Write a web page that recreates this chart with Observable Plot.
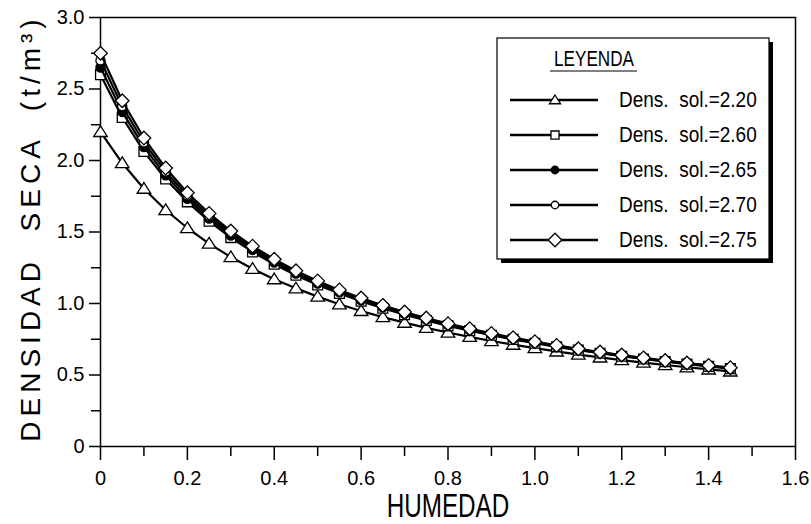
<!DOCTYPE html>
<html>
<head>
<meta charset="utf-8">
<script src="https://cdn.jsdelivr.net/npm/d3@7"></script>
<script src="https://cdn.jsdelivr.net/npm/@observablehq/plot@0.6"></script>
<style>
  html, body { margin: 0; padding: 0; background: #fff; }
  #wrap { position: relative; width: 811px; height: 524px; }
  #legend { position: absolute; left: 0; top: 0; }
  .ytitle text { white-space: pre; letter-spacing: 5px; }
</style>
</head>
<body>
<div id="wrap"><div id="chart"></div><svg id="legend" width="811" height="524"></svg></div>
<script>
// Humedad (x values)
const humedad = [0,0.05,0.10,0.15,0.20,0.25,0.30,0.35,0.40,0.45,0.50,0.55,0.60,0.65,0.70,0.75,0.80,0.85,0.90,0.95,1.00,1.05,1.10,1.15,1.20,1.25,1.30,1.35,1.40,1.45];
// Densidad seca for each solid density
const dens220 = [2.200,1.982,1.803,1.654,1.528,1.419,1.325,1.243,1.170,1.106,1.048,0.995,0.948,0.905,0.866,0.830,0.797,0.767,0.738,0.712,0.688,0.665,0.643,0.623,0.604,0.587,0.570,0.554,0.539,0.525];
const dens260 = [2.600,2.301,2.063,1.871,1.711,1.576,1.461,1.361,1.275,1.198,1.130,1.070,1.016,0.967,0.922,0.881,0.844,0.810,0.778,0.749,0.722,0.697,0.674,0.652,0.631,0.612,0.594,0.576,0.560,0.545];
const dens265 = [2.650,2.340,2.095,1.896,1.732,1.594,1.476,1.375,1.286,1.209,1.140,1.078,1.023,0.973,0.928,0.887,0.849,0.815,0.783,0.753,0.726,0.701,0.677,0.655,0.634,0.614,0.596,0.579,0.563,0.547];
const dens270 = [2.700,2.379,2.126,1.922,1.753,1.612,1.492,1.388,1.298,1.219,1.149,1.087,1.031,0.980,0.934,0.893,0.854,0.819,0.787,0.757,0.730,0.704,0.680,0.658,0.637,0.617,0.599,0.581,0.565,0.549];
const dens275 = [2.750,2.418,2.157,1.947,1.774,1.630,1.507,1.401,1.310,1.229,1.158,1.095,1.038,0.987,0.940,0.898,0.859,0.824,0.791,0.761,0.733,0.707,0.683,0.661,0.640,0.620,0.601,0.584,0.567,0.551];

const seriesNames = ["Dens.  sol.=2.20","Dens.  sol.=2.60","Dens.  sol.=2.65","Dens.  sol.=2.70","Dens.  sol.=2.75"];
const seriesValues = [dens220, dens260, dens265, dens270, dens275];
const seriesSymbols = ["triangle","square","circle","circle","diamond"];
const seriesFill = ["white","white","black","white","white"];

const xMajorTicks = [0,0.2,0.4,0.6,0.8,1.0,1.2,1.4,1.6];
const xMinorTicks = [0.1,0.3,0.5,0.7,0.9,1.1,1.3,1.5];
const yMajorTicks = [0,0.5,1.0,1.5,2.0,2.5,3.0];
const yMinorTicks = [0.25,0.75,1.25,1.75,2.25,2.75];

const xTitle = "HUMEDAD";
const yTitle = "DENSIDAD  SECA  (t/m³)";
const legendTitle = "LEYENDA";

const fmt = d => d === 0 ? "0" : d.toFixed(1);

// square-ish diamond (rotated square) and equilateral triangle
const diamondSym = {draw(ctx, size) { const r = Math.sqrt(size) * 0.62; ctx.moveTo(0, -r); ctx.lineTo(r, 0); ctx.lineTo(0, r); ctx.lineTo(-r, 0); ctx.closePath(); }};
const triSym = {draw(ctx, size) { const r = Math.sqrt(size) * 0.62; const h = r * 0.9; ctx.moveTo(0, -h); ctx.lineTo(r, h * 0.75); ctx.lineTo(-r, h * 0.75); ctx.closePath(); }};
const squareSym = {draw(ctx, size) { const r = Math.sqrt(size) * 0.45; ctx.rect(-r, -r, 2 * r, 2 * r); }};
const circleSym = {draw(ctx, size) { const r = Math.sqrt(size) * 0.42; ctx.moveTo(r, 0); ctx.arc(0, 0, r, 0, 2 * Math.PI); }};
const symMap = {triangle: triSym, square: squareSym, circle: circleSym, diamond: diamondSym};
const symArea = 120;

const marks = [];
seriesValues.forEach((vals, i) => {
  const data = humedad.map((h, j) => ({x: h, y: vals[j]}));
  marks.push(Plot.line(data, {x: "x", y: "y", stroke: "black", strokeWidth: 2.2}));
  marks.push(Plot.dot(data, {x: "x", y: "y", symbol: symMap[seriesSymbols[i]], r: Math.sqrt(symArea / Math.PI),
    fill: seriesFill[i], stroke: "black", strokeWidth: 1.3}));
});

const chart = Plot.plot({
  width: 811,
  height: 524,
  marginLeft: 100,
  marginRight: 16,
  marginTop: 17,
  marginBottom: 78,
  style: {fontFamily: "'Liberation Sans', sans-serif", fontSize: "20px", color: "black", background: "white"},
  x: {domain: [0, 1.6]},
  y: {domain: [0, 3.0]},
  marks: [
    Plot.frame({stroke: "black", strokeWidth: 1.5}),
    Plot.axisX({ticks: xMajorTicks, tickFormat: fmt, tickSize: 14, tickPadding: 10, strokeWidth: 1.5, label: null, fontSize: 20}),
    Plot.axisX({ticks: xMinorTicks, tickFormat: () => "", tickSize: 10, strokeWidth: 1.5, label: null}),
    Plot.axisY({ticks: yMajorTicks, tickFormat: fmt, tickSize: 11, tickPadding: 5, strokeWidth: 1.5, label: null, fontSize: 20}),
    Plot.axisY({ticks: yMinorTicks, tickFormat: () => "", tickSize: 9, strokeWidth: 1.5, label: null}),
    Plot.text([xTitle], {frameAnchor: "bottom", lineAnchor: "bottom", dy: 70, fontSize: 25, fill: "black", className: "xtitle"}),
    Plot.text([yTitle], {frameAnchor: "left", textAnchor: "middle", rotate: -90, dx: -69, dy: -4, fontSize: 28, fill: "black", className: "ytitle"}),
    ...marks
  ]
});
document.getElementById("chart").appendChild(chart);

// stretch x title to mimic tall CAD lettering
d3.select(chart).selectAll(".xtitle text").each(function() {
  const t = d3.select(this);
  t.attr("transform", (t.attr("transform") || "") + " scale(0.97,1.3)");
});

// Legend
const lg = d3.select("#legend");
const bx = 497, by = 38, bw = 272, bh = 221;
lg.append("rect").attr("x", bx + 4).attr("y", by + 4).attr("width", bw).attr("height", bh).attr("fill", "black");
lg.append("rect").attr("x", bx).attr("y", by).attr("width", bw).attr("height", bh).attr("fill", "white").attr("stroke", "black").attr("stroke-width", 1.2);
lg.append("text").text(legendTitle).attr("x", 594).attr("y", 66).attr("text-anchor", "middle")
  .attr("font-family", "'Liberation Sans', sans-serif").attr("font-size", 19).attr("transform", "translate(594,66) scale(0.9,1.15) translate(-594,-66)");
lg.append("line").attr("x1", 550).attr("x2", 637).attr("y1", 71).attr("y2", 71).attr("stroke", "black").attr("stroke-width", 1.2);
seriesNames.forEach((name, i) => {
  const yy = 100 + i * 35;
  lg.append("line").attr("x1", 510).attr("x2", 598).attr("y1", yy).attr("y2", yy).attr("stroke", "black").attr("stroke-width", 2.6);
  const area = seriesSymbols[i] === "diamond" ? symArea : 80;
  lg.append("path").attr("d", d3.symbol(symMap[seriesSymbols[i]], area)())
    .attr("transform", `translate(555,${yy})`).attr("fill", seriesFill[i]).attr("stroke", "black").attr("stroke-width", 1.3);
  lg.append("text").text(name).attr("x", 619).attr("y", yy).attr("dy", "0.35em")
    .attr("font-family", "'Liberation Sans', sans-serif").attr("font-size", 19).style("white-space", "pre")
    .attr("transform", `translate(619,${yy}) scale(1,1.12) translate(-619,${-yy})`);
});
</script>
</body>
</html>
